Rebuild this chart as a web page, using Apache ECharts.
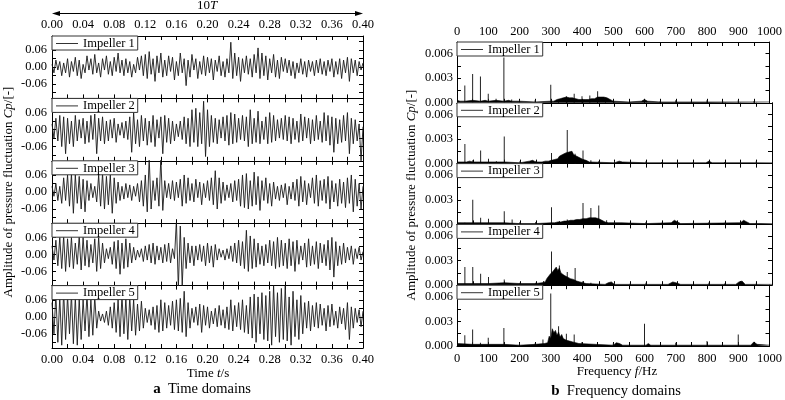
<!DOCTYPE html>
<html><head><meta charset="utf-8">
<script src="https://cdn.jsdelivr.net/npm/echarts@6/dist/echarts.min.js"></script>
<style>html,body{margin:0;padding:0;background:#fff}#c{width:785px;height:400px}</style>
</head><body><div id="c"></div>
<script>
// ---------- DATA ----------
const impellers = ['Impeller 1','Impeller 2','Impeller 3','Impeller 4','Impeller 5'];
const timeStep = 0.0025; // s between samples
const timeTickLabels = ['0.00','0.04','0.08','0.12','0.16','0.20','0.24','0.28','0.32','0.36','0.40'];
const freqTickLabels = ['0','100','200','300','400','500','600','700','800','900','1000'];
const cpTickLabels = ['-0.06','0.00','0.06'];
const ampTickLabels = ['0.000','0.003','0.006'];

const cp1 = [
0.01,-0.02,0.025,-0.01,0.02,-0.03,0.015,-0.02,0.03,-0.035,0.02,-0.015,0.035,-0.03,0.025,-0.04,0.01,-0.02,0.04,-0.01,
0.03,-0.025,0.045,-0.02,0.015,-0.035,0.03,-0.01,0.04,-0.025,0.02,-0.03,0.035,-0.015,0.05,-0.02,0.025,-0.03,0.03,-0.02,
0.02,-0.035,0.01,-0.02,0.035,-0.01,0.04,-0.03,0.045,-0.04,0.055,-0.025,0.03,-0.05,0.04,-0.02,0.05,-0.035,0.025,-0.03,
0.04,-0.015,0.035,-0.045,0.02,-0.03,0.05,-0.02,0.03,-0.065,0.025,-0.035,0.045,-0.01,0.03,-0.04,0.02,-0.025,0.04,-0.03,
0.035,-0.02,0.03,-0.045,0.025,-0.015,0.04,-0.03,0.02,-0.035,0.03,-0.02,0.088,-0.04,0.05,-0.03,0.035,-0.05,0.03,-0.02,
0.04,-0.025,0.03,-0.035,0.045,-0.02,0.068,-0.04,0.05,-0.03,0.04,-0.045,0.03,-0.02,0.045,-0.035,0.025,-0.04,0.035,-0.015,
0.03,-0.02,0.025,-0.03,0.02,-0.04,0.015,-0.02,0.03,-0.025,0.02,-0.035,0.025,-0.015,0.02,-0.03,0.025,-0.02,0.03,-0.025,
0.02,-0.03,0.025,-0.015,0.03,-0.035,0.02,-0.025,0.03,-0.04,0.025,-0.02,0.035,-0.05,0.03,-0.02,0.025,-0.03,0.02,-0.01,0.015];
const cp2 = [
0.02,-0.03,0.04,-0.04,0.05,-0.06,0.045,-0.085,0.04,-0.05,0.03,-0.06,0.05,-0.04,0.035,-0.03,0.04,-0.05,0.03,-0.045,
0.05,-0.035,0.055,-0.085,0.04,-0.04,0.045,-0.05,0.03,-0.04,0.035,-0.03,0.04,-0.045,0.02,-0.02,0.025,-0.03,0.03,-0.035,
0.045,-0.08,0.06,-0.05,0.035,-0.06,0.05,-0.04,0.04,-0.055,0.03,-0.045,0.05,-0.06,0.035,-0.03,0.045,-0.085,0.05,-0.045,
0.04,-0.05,0.03,-0.04,0.02,-0.025,0.03,-0.035,0.045,-0.05,0.04,-0.06,0.07,-0.045,0.075,-0.06,0.06,-0.05,0.1,-0.095,
0.07,-0.06,0.05,-0.045,0.04,-0.05,0.035,-0.03,0.045,-0.04,0.05,-0.055,0.06,-0.05,0.055,-0.045,0.04,-0.035,0.05,-0.04,
0.045,-0.06,0.07,-0.05,0.04,-0.045,0.065,-0.05,0.03,-0.035,0.045,-0.05,0.06,-0.045,0.05,-0.04,0.035,-0.03,0.04,-0.035,
0.05,-0.04,0.045,-0.05,0.04,-0.035,0.03,-0.045,0.055,-0.04,0.045,-0.03,0.04,-0.05,0.035,-0.04,0.05,-0.035,0.03,-0.045,
0.06,-0.04,0.05,-0.055,0.045,-0.08,0.04,-0.05,0.035,-0.045,0.05,-0.04,0.06,-0.085,0.04,-0.05,0.035,-0.04,0.02,-0.11,0.01];
const cp3 = [
0.02,-0.015,0.03,-0.03,0.02,-0.04,0.05,-0.03,0.06,-0.05,0.065,-0.075,0.06,-0.04,0.055,-0.06,0.045,-0.07,0.04,-0.03,
0.03,-0.02,0.02,-0.035,0.06,-0.05,0.065,-0.06,0.055,-0.045,0.06,-0.075,0.05,-0.04,0.035,-0.03,0.02,-0.025,0.03,-0.02,
0.025,-0.03,0.02,-0.015,0.03,-0.035,0.04,-0.05,0.06,-0.07,0.12,-0.06,0.04,-0.03,0.05,-0.05,0.12,-0.065,0.04,-0.02,
0.03,-0.025,0.04,-0.03,0.035,-0.02,0.045,-0.05,0.06,-0.04,0.05,-0.03,0.03,-0.035,0.045,-0.02,0.035,-0.045,0.03,-0.02,
0.04,-0.03,0.05,-0.045,0.075,-0.06,0.05,-0.04,0.035,-0.03,0.025,-0.02,0.03,-0.035,0.04,-0.03,0.045,-0.05,0.06,-0.055,
0.065,-0.06,0.04,-0.05,0.07,-0.045,0.055,-0.065,0.04,-0.03,0.05,-0.04,0.03,-0.05,0.035,-0.025,0.02,-0.03,0.025,-0.02,
0.03,-0.045,0.02,-0.025,0.035,-0.03,0.045,-0.05,0.055,-0.035,0.04,-0.045,0.03,-0.02,0.05,-0.04,0.06,-0.05,0.04,-0.03,
0.045,-0.04,0.055,-0.06,0.04,-0.035,0.03,-0.05,0.045,-0.04,0.035,-0.055,0.05,-0.04,0.06,-0.07,0.045,-0.05,0.03,-0.06,0.02];
const cp4 = [
0.03,-0.02,0.05,-0.04,0.06,-0.05,0.065,-0.06,0.055,-0.045,0.06,-0.05,0.04,-0.035,0.065,-0.055,0.06,-0.04,0.05,-0.045,
0.035,-0.03,0.055,-0.06,0.06,-0.05,0.04,-0.03,0.02,-0.015,0.025,-0.035,0.045,-0.05,0.05,-0.07,0.04,-0.05,0.055,-0.045,
0.04,-0.03,0.025,-0.02,0.015,-0.01,0.02,-0.025,0.03,-0.02,0.035,-0.03,0.04,-0.035,0.03,-0.02,0.025,-0.03,0.035,-0.025,
0.04,-0.03,0.02,-0.015,0.12,-0.12,0.1,-0.11,0.06,-0.05,0.04,-0.03,0.03,-0.04,0.03,-0.02,0.035,-0.025,0.03,-0.04,
0.04,-0.03,0.03,-0.045,0.035,-0.02,0.02,-0.01,0.015,-0.02,0.02,-0.015,0.03,-0.025,0.04,-0.03,0.05,-0.04,0.045,-0.05,
0.085,-0.06,0.065,-0.05,0.055,-0.045,0.04,-0.035,0.03,-0.04,0.035,-0.03,0.05,-0.04,0.045,-0.05,0.06,-0.045,0.05,-0.04,
0.04,-0.05,0.055,-0.04,0.045,-0.06,0.05,-0.035,0.03,-0.02,0.04,-0.045,0.055,-0.04,0.03,-0.035,0.045,-0.05,0.04,-0.03,
0.035,-0.04,0.05,-0.055,0.06,-0.08,0.045,-0.04,0.03,-0.035,0.04,-0.03,0.025,-0.02,0.03,-0.035,0.02,-0.015,0.025,-0.02,0.01];
const cp5 = [
0.05,-0.06,0.08,-0.09,0.07,-0.1,0.09,-0.08,0.075,-0.06,0.08,-0.095,0.07,-0.1,0.065,-0.08,0.06,-0.05,0.08,-0.07,
0.06,-0.065,0.07,-0.04,0.02,-0.015,0.01,-0.02,0.02,-0.03,0.035,-0.04,0.05,-0.055,0.06,-0.07,0.075,-0.06,0.065,-0.08,
0.07,-0.05,0.06,-0.065,0.045,-0.05,0.055,-0.04,0.03,-0.02,0.025,-0.03,0.035,-0.045,0.04,-0.055,0.06,-0.05,0.05,-0.04,
0.04,-0.03,0.055,-0.045,0.06,-0.05,0.065,-0.055,0.09,-0.07,0.05,-0.04,0.03,-0.02,0.035,-0.03,0.045,-0.055,0.04,-0.03,
0.035,-0.04,0.02,-0.025,0.03,-0.035,0.04,-0.03,0.025,-0.04,0.035,-0.045,0.06,-0.05,0.04,-0.035,0.05,-0.045,0.06,-0.055,
0.04,-0.06,0.07,-0.075,0.08,-0.09,0.07,-0.06,0.085,-0.08,0.075,-0.085,0.09,-0.1,0.11,-0.07,0.085,-0.09,0.1,-0.08,
0.11,-0.085,0.07,-0.1,0.09,-0.07,0.06,-0.08,0.075,-0.06,0.05,-0.04,0.055,-0.05,0.04,-0.035,0.05,-0.04,0.045,-0.03,
0.03,-0.05,0.04,-0.035,0.045,-0.03,0.02,-0.04,0.035,-0.025,0.03,-0.045,0.05,-0.08,0.035,-0.04,0.03,-0.02,0.025,-0.035,0.02];

// Spectrum discrete peaks [frequency Hz, amplitude]
const peaks1 = [[25,.0021],[50,.0035],[75,.0032],[100,.0011],[125,.0005],[150,.0055],[175,.0004],[200,.0003],[250,.0003],[300,.0022],[325,.0004],[350,.0008],[375,.0011],[400,.0008],[425,.0009],[450,.0014],[475,.0006],[600,.0003],[650,.0002],[700,.0003],[750,.0002],[800,.0003],[850,.0002],[900,.0003],[950,.0002]];
const peaks2 = [[25,.0024],[50,.0004],[75,.0016],[100,.0006],[125,.0003],[150,.0033],[200,.0003],[250,.0003],[300,.0013],[325,.0008],[350,.0041],[375,.0012],[400,.0016],[425,.0004],[450,.0003],[500,.0003],[600,.0003],[650,.0002],[700,.0002],[750,.0002],[800,.0003],[850,.0002],[900,.0002],[950,.0003]];
const peaks3 = [[25,.0002],[50,.003],[75,.0008],[100,.0007],[150,.0016],[175,.0006],[200,.0003],[250,.0003],[300,.0021],[325,.0004],[350,.0006],[400,.0026],[425,.002],[450,.0023],[475,.0005],[500,.0003],[550,.0002],[600,.0003],[650,.0002],[700,.0003],[750,.0002],[800,.0003],[850,.0002],[900,.0003],[950,.0002]];
const peaks4 = [[25,.0022],[50,.0022],[75,.0014],[100,.001],[150,.0007],[200,.0003],[250,.0003],[275,.0005],[300,.0041],[325,.0024],[350,.0016],[375,.0021],[400,.0005],[425,.0003],[500,.0003],[550,.0002],[600,.0003],[700,.0003],[800,.0003],[850,.0002],[900,.0003],[950,.0002]];
const peaks5 = [[25,.0013],[50,.002],[75,.0004],[100,.001],[150,.0022],[200,.0003],[250,.0003],[275,.0008],[300,.0064],[325,.0024],[350,.0015],[375,.0014],[400,.0005],[500,.0003],[600,.0027],[700,.0004],[800,.0006],[900,.0014],[950,.0004]];

// Spectrum broadband continuum [frequency Hz, amplitude]
const cont1 = [[0,.0003],[10,.0002],[25,.0002],[50,.0003],[75,.0002],[90,.0003],[100,.0002],[125,.0003],[150,.0002],[165,.0003],[175,.0002],[200,.0002],[250,.0001],[300,.0002],
[305,.0003],[310,.0002],[315,.0003],[320,.0004],[325,.0003],[330,.0005],[335,.0004],[340,.0006],[345,.0005],[350,.0007],[355,.0005],[360,.0006],[365,.0008],[370,.0006],[375,.0007],[380,.0005],[385,.0006],[390,.0004],[395,.0005],[400,.0004],[405,.0005],[410,.0004],[415,.0005],[420,.0004],[425,.0006],[430,.0005],[435,.0006],[440,.0005],[445,.0006],[450,.0007],[455,.0006],[460,.0007],[465,.0006],[470,.0007],[475,.0005],[480,.0006],[485,.0004],[490,.0004],[495,.0003],[500,.0002],
[550,.0001],[590,.0002],[600,.0004],[610,.0002],[650,.0001],[800,.0001],[1000,.0001]];
const cont2 = [[0,.0002],[30,.0002],[40,.0003],[50,.0002],[100,.0002],[150,.0002],[200,.0001],[230,.0003],[240,.0004],[250,.0002],[270,.0002],
[280,.0003],[285,.0004],[290,.0003],[295,.0005],[300,.0004],[305,.0006],[310,.0005],[315,.0007],[320,.0006],[325,.0009],[330,.0008],[335,.0011],[340,.0009],[345,.0013],[350,.0011],[355,.0014],[360,.0012],[365,.0015],[370,.0011],[375,.0013],[380,.0009],[385,.0011],[390,.0007],[395,.0008],[400,.0005],[405,.0006],[410,.0004],[415,.0003],[420,.0002],
[500,.0001],[515,.0003],[525,.0002],[600,.0001],[790,.0001],[800,.0003],[810,.0001],[1000,.0001]];
const cont3 = [[0,.0002],[50,.0002],[100,.0002],[150,.0002],[200,.0001],[250,.0001],[300,.0002],
[305,.0003],[310,.0002],[315,.0003],[320,.0003],[325,.0004],[330,.0003],[335,.0004],[340,.0004],[345,.0005],[350,.0004],[355,.0005],[360,.0005],[365,.0006],[370,.0005],[375,.0006],[380,.0006],[385,.0007],[390,.0006],[395,.0008],[400,.0007],[405,.0008],[410,.0007],[415,.0009],[420,.0008],[425,.0009],[430,.0008],[435,.001],[440,.0008],[445,.0009],[450,.0007],[455,.0008],[460,.0005],[465,.0004],[470,.0003],[475,.0003],[480,.0002],
[500,.0002],[520,.0002],[600,.0001],[680,.0002],[690,.0005],[700,.0003],[710,.0001],[900,.0002],[910,.0005],[920,.0003],[930,.0001],[1000,.0001]];
const cont4 = [[0,.0002],[50,.0002],[100,.0002],[150,.0003],[200,.0002],[250,.0002],
[270,.0003],[275,.0005],[280,.0004],[285,.0008],[290,.0007],[295,.0013],[300,.0011],[305,.0017],[310,.0015],[315,.0022],[320,.0018],[325,.0021],[330,.0015],[335,.0017],[340,.0012],[345,.0014],[350,.001],[355,.0012],[360,.0008],[365,.001],[370,.0007],[375,.0009],[380,.0005],[385,.0006],[390,.0004],[395,.0005],[400,.0003],[410,.0002],
[470,.0001],[480,.0003],[490,.0004],[500,.0001],[670,.0001],[685,.0004],[695,.0003],[710,.0001],[885,.0001],[895,.0004],[905,.0005],[915,.0001],[1000,.0001]];
const cont5 = [[0,.0003],[50,.0002],[100,.0002],[150,.0002],[200,.0001],[250,.0002],
[280,.0003],[285,.0005],[290,.0004],[295,.0012],[300,.0009],[305,.0021],[310,.0016],[315,.0019],[320,.0013],[325,.0017],[330,.0011],[335,.0014],[340,.0009],[345,.0011],[350,.0007],[355,.0008],[360,.0006],[365,.0007],[370,.0005],[375,.0006],[380,.0004],[390,.0003],
[500,.0001],[510,.0004],[520,.0003],[530,.0001],[605,.0001],[612,.0003],[620,.0001],[940,.0001],[950,.0005],[960,.0002],[1000,.0001]];

// ---------- BUILD ----------
const cps = [cp1,cp2,cp3,cp4,cp5];
const peaks = [peaks1,peaks2,peaks3,peaks4,peaks5];
const conts = [cont1,cont2,cont3,cont4,cont5];
const FONT = 'Liberation Serif';
const FS = 12.5;
const LW = {l:52, w:311, t:36, h:62.4};
const RW = {l:457, w:315, t:42, h:60.8};

const grid=[], xAxis=[], yAxis=[], series=[], legend=[];
function axisCommon(){
  return {axisLine:{show:true,onZero:false,lineStyle:{color:'#000',width:1}},
          splitLine:{show:false},
          axisLabel:{color:'#000',fontFamily:FONT,fontSize:FS},
          axisTick:{show:true,inside:true,length:4,lineStyle:{color:'#000'}}};
}
for(let side=0; side<2; side++){
  const L = side===0?LW:RW;
  for(let k=0;k<5;k++){
    const gi = grid.length;
    grid.push({left:L.l, width:L.w, top:L.t+k*L.h, height:L.h, containLabel:false});
    const xmin=0, xmax= side===0?0.4:1000, xint= side===0?0.04:100;
    const labels = side===0?timeTickLabels:freqTickLabels;
    const fmt = v => side===0 ? v.toFixed(2) : String(Math.round(v));
    const xb = Object.assign(axisCommon(),{type:'value',gridIndex:gi,position:'bottom',min:xmin,max:xmax,interval:xint,
       minorTick:{show:true,splitNumber:2,length:4,lineStyle:{color:'#000'}}});
    xb.axisLabel = Object.assign(xb.axisLabel,{show:k===4,margin:side===0?5:6,formatter:v=>{const s=fmt(v);return labels.includes(s)?s:'';}});
    const xt = Object.assign(axisCommon(),{type:'value',gridIndex:gi,position:'top',min:xmin,max:xmax,interval:xint,
       minorTick:{show:true,splitNumber:2,length:4,lineStyle:{color:'#000'}}});
    xt.axisLabel = Object.assign(xt.axisLabel,{show:k===0,margin:side===0?5:4,formatter:v=>{const s=fmt(v);return labels.includes(s)?s:'';}});
    const xbi = xAxis.length; xAxis.push(xb); xAxis.push(xt);
    let ymin, ymax, labVals, tickVals, yfmt;
    if(side===0){ ymin=-0.11; ymax=0.11; labVals=cpTickLabels.map(Number); tickVals=[-0.09,-0.06,-0.03,0,0.03,0.06,0.09]; yfmt=v=>v.toFixed(2); }
    else { ymin=0; ymax=0.0074; labVals=ampTickLabels.map(Number); tickVals=[0,0.0015,0.003,0.0045,0.006]; yfmt=v=>v.toFixed(3); }
    const yl = Object.assign(axisCommon(),{type:'value',gridIndex:gi,position:'left',min:ymin,max:ymax});
    yl.axisLabel = Object.assign(yl.axisLabel,{customValues:labVals,formatter:yfmt,margin:side===0?5:4});
    yl.axisTick = Object.assign(yl.axisTick,{customValues:tickVals});
    const yr = Object.assign(axisCommon(),{type:'value',gridIndex:gi,position:'right',min:ymin,max:ymax});
    yr.axisLabel = Object.assign(yr.axisLabel,{show:false});
    yr.axisTick = Object.assign(yr.axisTick,{customValues:tickVals});
    const yli = yAxis.length; yAxis.push(yl); yAxis.push(yr);

    if(side===0){
      series.push({type:'line',name:impellers[k],xAxisIndex:xbi,yAxisIndex:yli,symbol:'none',
        data:cps[k].map((v,i)=>[i*timeStep,v]),lineStyle:{color:'#1a1a1a',width:0.9},itemStyle:{color:'#1a1a1a'},
        animation:false,clip:true});
    } else {
      series.push({type:'line',name:impellers[k],xAxisIndex:xbi,yAxisIndex:yli,symbol:'none',
        data:conts[k],lineStyle:{color:'#000',width:0.6},itemStyle:{color:'#000'},areaStyle:{color:'#000',opacity:1},
        animation:false,clip:true});
      series.push({type:'bar',name:'peaks'+k,xAxisIndex:xbi,yAxisIndex:yli,barWidth:1,
        data:peaks[k],itemStyle:{color:'#222'},animation:false,clip:true});
    }
    legend.push({data:[impellers[k]],left:L.l,top:L.t+k*L.h,orient:'horizontal',selectedMode:false,
      backgroundColor:'#fff',borderColor:'#333',borderWidth:1,borderRadius:0,padding:[1,3,0,4],
      icon:'rect',itemWidth:22,itemHeight:1,itemGap:4,itemStyle:{color:'#333'},
      textStyle:{fontFamily:FONT,fontSize:FS,color:'#000',lineHeight:13}});
  }
}

const rich = {n:{fontFamily:FONT,fontSize:13,color:'#000'}, i:{fontFamily:FONT,fontSize:13,fontStyle:'italic',color:'#000'},
  nb:{fontFamily:FONT,fontSize:14.5,color:'#000'}, b:{fontFamily:FONT,fontSize:15,fontWeight:'bold',color:'#000'}};
const graphic = [
  {type:'text',x:207,y:6,style:{text:'{n|10}{i|T}',rich,align:'center',verticalAlign:'middle'}},
  {type:'line',shape:{x1:54,y1:13.5,x2:361,y2:13.5},style:{stroke:'#000',lineWidth:1}},
  {type:'polygon',shape:{points:[[52,13.5],[60,11],[60,16]]},style:{fill:'#000'}},
  {type:'polygon',shape:{points:[[363,13.5],[355,11],[355,16]]},style:{fill:'#000'}},
  {type:'text',x:208,y:374,style:{text:'{n|Time }{i|t}{n|/s}',rich,align:'center',verticalAlign:'middle'}},
  {type:'text',x:202,y:389,style:{text:'{b|a}{nb|  Time domains}',rich,align:'center',verticalAlign:'middle'}},
  {type:'text',x:617,y:372,style:{text:'{n|Frequency }{i|f}{n|/Hz}',rich,align:'center',verticalAlign:'middle'}},
  {type:'text',x:616,y:391,style:{text:'{b|b}{nb|  Frequency domains}',rich,align:'center',verticalAlign:'middle'}},
  {type:'text',x:9,y:192,rotation:Math.PI/2,style:{text:'{n|Amplitude of pressure fluctuation }{i|Cp}{n|/[-]}',rich,align:'center',verticalAlign:'middle'}},
  {type:'text',x:412,y:195,rotation:Math.PI/2,style:{text:'{n|Amplitude of pressure fluctuation }{i|Cp}{n|/[-]}',rich,align:'center',verticalAlign:'middle'}}
];

const chart = echarts.init(document.getElementById('c'),null,{renderer:'canvas'});
chart.setOption({animation:false,backgroundColor:'#fff',grid,xAxis,yAxis,series,legend,graphic});
</script></body></html>
